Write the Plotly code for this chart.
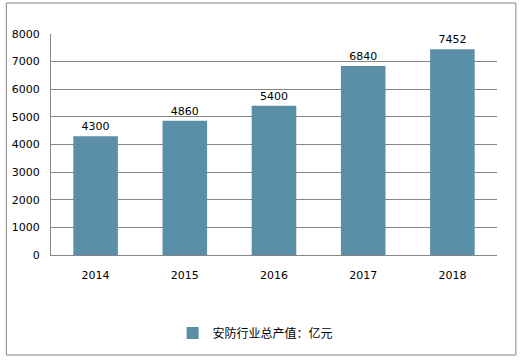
import plotly.graph_objects as go

years = ["2014", "2015", "2016", "2017", "2018"]
values = [4300, 4860, 5400, 6840, 7452]
series_name = "安防行业总产值：亿元"
y_ticks = [0, 1000, 2000, 3000, 4000, 5000, 6000, 7000, 8000]

W, H = 521, 360
L, R, T, B = 48, 24, 34, 105
pw, ph = W - L - R, H - T - B

def px_x(x):
    return (x - L) / pw

def px_y(y):
    return (H - B - y) / ph

bar_color = "#5B8FA8"

fig = go.Figure()
fig.add_trace(go.Bar(
    x=years, y=values, name=series_name,
    marker=dict(color=bar_color, line=dict(width=0)),
    width=0.5,
    text=[str(v) for v in values], textposition="outside",
    textfont=dict(family="DejaVu Sans, Verdana, sans-serif", size=11, color="#000000"),
    cliponaxis=False,
    showlegend=True,
))

fig.update_layout(
    width=W, height=H,
    margin=dict(l=L, r=R, t=T, b=B),
    paper_bgcolor="white", plot_bgcolor="white",
    font=dict(family="DejaVu Sans, Verdana, sans-serif", size=11, color="#000000"),
    bargap=0.5,
    xaxis=dict(
        type="category", showgrid=False, showline=True, linecolor="#868686", linewidth=1,
        ticks="", tickfont=dict(size=11), ticklabelstandoff=10,
    ),
    yaxis=dict(
        range=[0, 8000], tickvals=y_ticks, showgrid=True, gridcolor="#868686", gridwidth=1,
        showline=True, linecolor="#868686", linewidth=1, ticks="", zeroline=False,
        tickfont=dict(size=11), ticklabelstandoff=8,
    ),
    legend=dict(
        orientation="h", x=px_x(254), xanchor="center", y=px_y(333), yanchor="middle",
        font=dict(family="Noto Sans CJK SC, sans-serif", size=12, color="#000000"),
        itemwidth=30,
    ),
    shapes=[dict(
        type="rect", xref="paper", yref="paper",
        x0=px_x(3), x1=px_x(516), y0=px_y(355), y1=px_y(3),
        line=dict(color="#868686", width=1), fillcolor="rgba(0,0,0,0)", layer="below",
    )],
)

fig.write_html(
    "out.html",
    config={"displayModeBar": False},
    post_script="document.body.style.margin='0';document.body.style.overflow='hidden';",
)
